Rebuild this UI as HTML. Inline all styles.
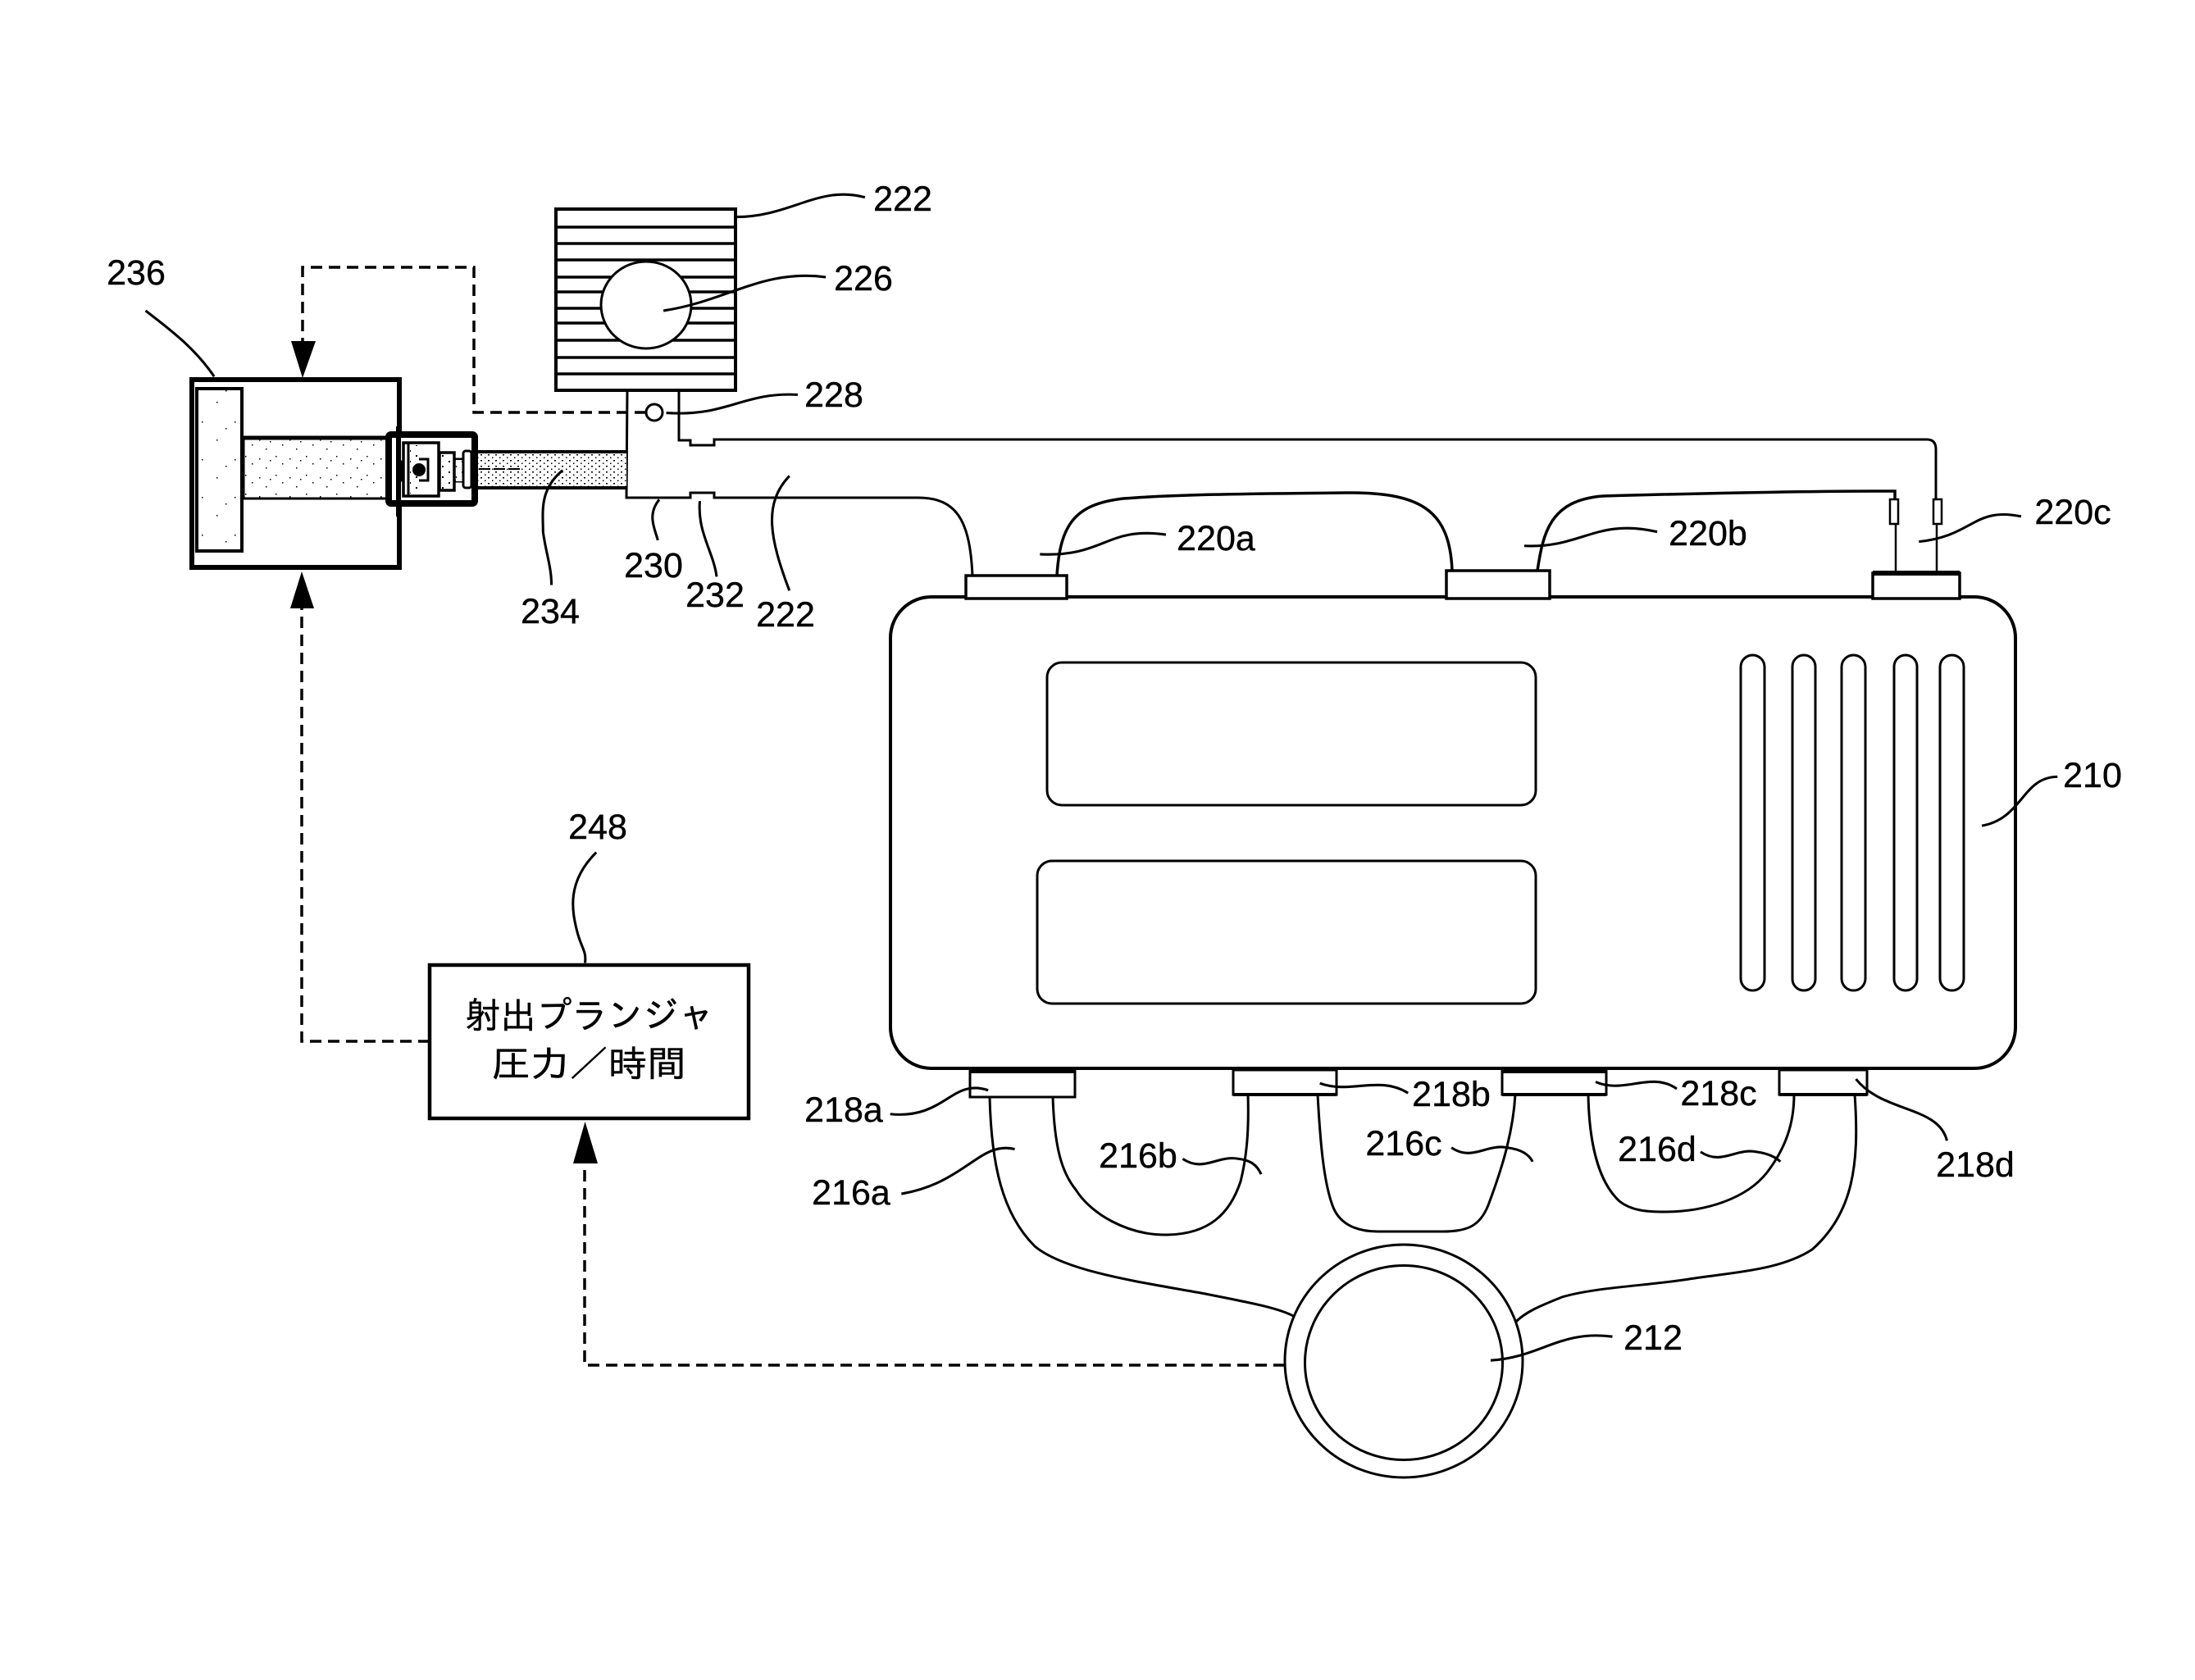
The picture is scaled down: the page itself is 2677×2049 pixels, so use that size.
<!DOCTYPE html>
<html><head><meta charset="utf-8"><style>
html,body{margin:0;padding:0;background:#fff}
svg{display:block}
text{font-family:"Liberation Sans","IPAGothic",sans-serif;fill:#000;stroke:#000;stroke-width:.4}
</style></head><body>
<svg xmlns="http://www.w3.org/2000/svg" width="2677" height="2049" viewBox="0 0 2677 2049">
<defs>
<pattern id="s1" width="9" height="7" patternUnits="userSpaceOnUse"><rect width="9" height="7" fill="#fff"/><rect x="1" y="1" width="2" height="1.5" fill="#000"/><rect x="6" y="4.5" width="1.5" height="1.5" fill="#000"/></pattern>
<pattern id="s2" width="37" height="23" patternUnits="userSpaceOnUse"><rect width="37" height="23" fill="#fff"/><rect x="3" y="4" width="1.5" height="1.5" fill="#000"/><rect x="11" y="13" width="1.5" height="1.5" fill="#000"/><rect x="20" y="7" width="1.5" height="1.5" fill="#000"/><rect x="28" y="18" width="1.5" height="1.5" fill="#000"/><rect x="33" y="9" width="1.5" height="1.5" fill="#000"/></pattern>
<pattern id="s4" width="40" height="46" patternUnits="userSpaceOnUse"><rect width="40" height="46" fill="#fff"/><rect x="6" y="8" width="1.5" height="1.5" fill="#000"/><rect x="24" y="30" width="1.5" height="1.5" fill="#000"/><rect x="35" y="16" width="1.5" height="1.5" fill="#000"/></pattern>
<pattern id="s3" width="16" height="13" patternUnits="userSpaceOnUse"><rect width="16" height="13" fill="#fff"/><rect x="3" y="3" width="2" height="2" fill="#000"/><rect x="11" y="9" width="2" height="2" fill="#000"/></pattern>
</defs>
<g fill="none" stroke="#000" stroke-width="3">
<!-- engine -->
<rect x="1086" y="728" width="1372" height="575" rx="50" stroke-width="4"/>
<rect x="1277" y="808" width="596" height="174" rx="18"/>
<rect x="1265" y="1050" width="608" height="174" rx="18"/>
<rect x="2123" y="799" width="29" height="409" rx="14.5"/>
<rect x="2186" y="799" width="28" height="409" rx="14"/>
<rect x="2246" y="799" width="29" height="409" rx="14.5"/>
<rect x="2310" y="799" width="28" height="409" rx="14"/>
<rect x="2366" y="799" width="29" height="409" rx="14.5"/>

<!-- upper connector boxes -->
<rect x="1178" y="702" width="123" height="28" fill="#fff" stroke-width="3.5"/>
<rect x="1764" y="696" width="126" height="34" fill="#fff" stroke-width="3.5"/>
<rect x="2284" y="699" width="106" height="31" fill="#fff" stroke-width="3.5"/>
<path d="M2284 699H2390" stroke-width="6"/>
<!-- lower connector boxes -->
<rect x="1183" y="1305" width="128" height="33" fill="#fff"/>
<path d="M1183 1306H1311" stroke-width="6"/>
<rect x="1504" y="1305" width="126" height="30" fill="#fff"/>
<rect x="1832" y="1305" width="127" height="30" fill="#fff"/>
<path d="M1832 1306H1959" stroke-width="6"/>
<path d="M1832 1335H1959" stroke-width="4"/>
<rect x="2170" y="1305" width="107" height="30" fill="#fff"/>
<path d="M1504 1335H1630M2170 1335H2277" stroke-width="4"/>

<!-- runners -->
<path d="M1207 1338C1209 1420 1222 1480 1262 1520C1300 1552 1400 1565 1470 1578C1520 1588 1560 1595 1579 1606"/>
<path d="M1284 1338C1286 1400 1295 1430 1312 1451C1330 1480 1375 1507 1424 1506C1475 1505 1500 1480 1513 1441C1522 1405 1523 1370 1522 1335"/>
<path d="M1607 1335C1610 1390 1614 1440 1625 1470C1632 1490 1650 1502 1680 1502H1760C1790 1502 1805 1495 1815 1470C1830 1430 1845 1385 1848 1335"/>
<path d="M1937 1335C1938 1390 1948 1440 1975 1465C1990 1477 2010 1478 2030 1478C2080 1478 2130 1462 2155 1430C2178 1400 2188 1370 2188 1335"/>
<path d="M2262 1335C2268 1420 2260 1480 2210 1524C2170 1550 2110 1552 2060 1560C2010 1568 1945 1570 1905 1582C1880 1592 1860 1600 1848 1613"/>
<!-- ring -->
<ellipse cx="1712" cy="1660" rx="145" ry="142" stroke-width="3"/>
<ellipse cx="1712" cy="1662" rx="120.5" ry="118.5" stroke-width="3"/>

<!-- fuel pipes -->
<path d="M1289 702C1293 640 1310 615 1370 608C1450 602 1560 602 1640 601C1730 600 1768 620 1771 696" stroke-width="3.5"/>
<path d="M1875 696C1882 650 1890 610 1955 605C2060 602 2200 599 2311 599V609" stroke-width="3.5"/>
<rect x="2305" y="609" width="10" height="30" stroke-width="2.5"/>
<path d="M2312 639V699" stroke-width="2.5"/>
<rect x="2358" y="609" width="10" height="30" stroke-width="2.5"/>
<path d="M2362 639V699" stroke-width="2.5"/>
<path d="M828 476V537H842V543H871V537L871 536H2350Q2361 536 2361 548V609" stroke-width="3"/>
<path d="M765 476L764 607H842V601H871V607H1120C1170 607 1183 640 1186 702" stroke-width="3"/>

<!-- radiator -->
<rect x="678" y="255" width="219" height="221" stroke-width="4" fill="#fff"/>
<path d="M678 277H897M678 297H897M678 317H897M678 338H897M678 356H897M678 376H897M678 394H897M678 415H897M678 436H897M678 456H897" stroke-width="3.5"/>
<ellipse cx="788" cy="372" rx="55" ry="53" fill="#fff" stroke-width="3"/>
<ellipse cx="798" cy="503" rx="10" ry="10" fill="#fff" stroke-width="3"/>

<!-- injection unit -->
<rect x="234" y="463" width="253" height="229" stroke-width="6"/>
<rect x="240" y="474" width="55" height="198" fill="url(#s4)" stroke-width="4"/>
<rect x="295" y="534" width="182" height="74" fill="url(#s2)" stroke="none"/>
<path d="M295 534H477" stroke-width="5"/><path d="M295 608H477" stroke-width="3"/><path d="M296 534V608" stroke-width="5"/>
<rect x="582" y="552" width="182" height="43" fill="url(#s1)" stroke="none"/>
<path d="M580 551H764M580 595H764" stroke-width="4"/>
<path d="M566 572H636" stroke-width="2" stroke-dasharray="14 4"/>
<rect x="474" y="530" width="105" height="84" rx="3" fill="#fff" stroke-width="8"/>
<path d="M486 520V630" stroke-width="6"/>
<rect x="492" y="540" width="43" height="65" fill="#fff" stroke-width="3.5"/>
<path d="M498 541V604" stroke-width="3"/>
<rect x="500" y="543" width="11" height="59" fill="url(#s3)" stroke="none"/>
<rect x="536" y="552" width="18" height="46" fill="url(#s3)" stroke-width="3.5"/>
<path d="M554 560H566M554 587H566" stroke-width="3"/>
<rect x="556" y="561" width="10" height="26" fill="url(#s3)" stroke="none"/>
<rect x="565" y="550" width="10" height="45" rx="3" fill="#fff" stroke-width="3"/>
<rect x="486" y="562" width="4" height="25" rx="2" stroke-width="2"/>
<path d="M511 560H522V586H511" stroke-width="3"/>
<circle cx="511" cy="573" r="8" fill="#000" stroke="none"/>

<!-- control box -->
<rect x="524" y="1177" width="389" height="187" stroke-width="4.5" fill="#fff"/>

<!-- dashed signal lines -->
<g stroke-dasharray="14 8" stroke-width="3.5">
<path d="M788 503H578V326H369V418"/>
<path d="M524 1270H368V742"/>
<path d="M1567 1665H713V1419"/>
</g>
</g>
<!-- arrowheads -->
<polygon points="355,416 385,416 369,461" fill="#000"/>
<polygon points="354,742 383,742 368,697" fill="#000"/>
<polygon points="699,1419 729,1419 713.5,1368" fill="#000"/>

<!-- leaders -->
<g transform="scale(1.707)" fill="none" stroke="#000" stroke-width="1.8">
<path d="M526,155C565,155 585,132 618,141"/>
<path d="M474,222C520,215 545,192 590,198"/>
<path d="M476,295C520,298 530,280 570,282"/>
<path d="M104,222C125,238 140,250 153,269"/>
<path d="M743,396C790,398 790,376 833,382"/>
<path d="M1089,390C1130,392 1140,370 1184,380"/>
<path d="M1371,387C1410,383 1410,362 1444,369"/>
<path d="M1416,590C1445,585 1445,555 1470,555"/>
<path d="M426,609C405,630 408,650 413,668C416,678 419,680 418,688"/>
<path d="M471,357C462,368 468,378 470,386"/>
<path d="M500,358C498,380 510,395 512,412"/>
<path d="M564,340C545,360 550,385 564,422"/>
<path d="M402,336C385,350 388,366 388,380C390,395 394,405 394,418"/>
<path d="M706,779C680,770 675,800 636,796"/>
<path d="M943,774C965,782 985,768 1006,781"/>
<path d="M1140,773C1160,782 1180,765 1198,778"/>
<path d="M1326,771C1345,795 1385,790 1391,815"/>
<path d="M725,821C700,815 690,845 644,853"/>
<path d="M845,828C860,838 870,825 885,828C893,829 898,832 901,839"/>
<path d="M1037,820C1052,830 1062,817 1077,820C1085,821 1092,824 1095,830"/>
<path d="M1215,823C1230,833 1240,820 1255,823C1263,824 1269,827 1272,830"/>
<path d="M1065,972C1100,970 1115,950 1152,955"/>
</g>

<!-- labels -->
<g font-size="43" text-anchor="middle">
<text x="1101" y="257">222</text>
<text x="1053" y="354">226</text>
<text x="1017" y="496">228</text>
<text x="166" y="347">236</text>
<text x="1483" y="671">220a</text>
<text x="2083" y="665">220b</text>
<text x="2528" y="639">220c</text>
<text x="2552" y="960">210</text>
<text x="729" y="1023">248</text>
<text x="797" y="704">230</text>
<text x="872" y="740">232</text>
<text x="958" y="764">222</text>
<text x="671" y="760">234</text>
<text x="1029" y="1368">218a</text>
<text x="1770" y="1349">218b</text>
<text x="2096" y="1348">218c</text>
<text x="2409" y="1435">218d</text>
<text x="1038" y="1469">216a</text>
<text x="1388" y="1424">216b</text>
<text x="1712" y="1409">216c</text>
<text x="2021" y="1416">216d</text>
<text x="2016" y="1646">212</text>
</g>
<g font-size="44" text-anchor="middle">
<text x="719" y="1254" textLength="304" lengthAdjust="spacingAndGlyphs" style="font-family:'IPAGothic','Noto Sans CJK JP',sans-serif;stroke-width:.4">射出プランジャ</text>
<text x="718" y="1313" textLength="238" lengthAdjust="spacingAndGlyphs" style="font-family:'IPAGothic','Noto Sans CJK JP',sans-serif;stroke-width:.4">圧力／時間</text>
</g>
</svg>
</body></html>
